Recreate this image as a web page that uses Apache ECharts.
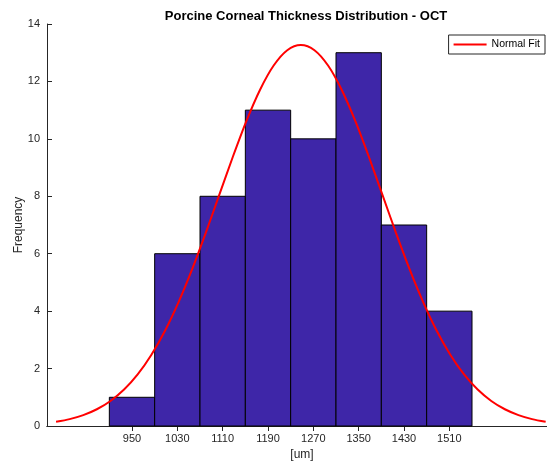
<!DOCTYPE html>
<html>
<head>
<meta charset="utf-8">
<script src="https://cdn.jsdelivr.net/npm/echarts@6/dist/echarts.min.js"></script>
<style>html,body{margin:0;padding:0;background:#fff}#c{width:547px;height:464px}</style>
</head>
<body>
<div id="c"></div>
<script>
// Histogram bins (edges) and counts
var binStart = [910, 990, 1070, 1150, 1230, 1310, 1390, 1470];
var binEnd   = [990, 1070, 1150, 1230, 1310, 1390, 1470, 1550];
var counts   = [1, 6, 8, 11, 10, 13, 7, 4];
// Tick labels (bin centers)
var xTicks = [950, 1030, 1110, 1190, 1270, 1350, 1430, 1510];
// Normal fit curve
var fitX = [816, 840, 864, 888, 912, 936, 960, 984, 1008, 1032, 1056, 1080, 1104, 1128, 1152, 1176, 1200, 1224, 1248,
            1272, 1296, 1320, 1344, 1368, 1392, 1416, 1440, 1464, 1488, 1512, 1536, 1560, 1584, 1608, 1632, 1656, 1680];
var fitY = [0.147, 0.240, 0.379, 0.583, 0.872, 1.269, 1.796, 2.472, 3.309, 4.308, 5.455, 6.719, 8.049, 9.377, 10.626, 11.711, 12.553, 13.087, 13.27,
            13.087, 12.553, 11.711, 10.626, 9.377, 8.049, 6.719, 5.455, 4.308, 3.309, 2.472, 1.796, 1.269, 0.872, 0.583, 0.379, 0.240, 0.147];

var barData = binStart.map(function (s, i) { return [s, binEnd[i], counts[i]]; });
var fitData = fitX.map(function (x, i) { return [x, fitY[i]]; });

var axisColor = '#262626';
var font = 'Liberation Sans, Arial, Helvetica, sans-serif';
var plain = function (v) { return String(v); };

var chart = echarts.init(document.getElementById('c'), null, {renderer: 'canvas'});
chart.setOption({
  animation: false,
  backgroundColor: '#ffffff',
  title: {
    text: 'Porcine Corneal Thickness Distribution - OCT',
    left: 301, top: 5, textAlign: 'center',
    textStyle: {fontFamily: font, fontSize: 13, fontWeight: 'bold', color: '#000'}
  },
  legend: {
    data: ['Normal Fit'],
    right: 2, top: 35,
    orient: 'vertical',
    backgroundColor: '#fff',
    borderColor: '#262626', borderWidth: 1,
    padding: [4, 5, 4, 5],
    itemWidth: 33, itemHeight: 2, itemGap: 0,
    textStyle: {fontFamily: font, fontSize: 10.5, color: '#000'},
    icon: 'rect'
  },
  grid: {left: 47, right: -10, top: 24, bottom: 38, containLabel: false, outerBoundsMode: 'none'},
  xAxis: [{
    type: 'value', min: 800, max: 1700,
    name: '[um]', nameLocation: 'middle', nameGap: 23, nameMoveOverlap: false,
    nameTextStyle: {fontFamily: font, fontSize: 12, color: axisColor},
    axisLine: {show: true, onZero: false, lineStyle: {color: axisColor, width: 1}},
    axisTick: {show: true, inside: true, length: 5, customValues: xTicks, lineStyle: {color: axisColor}},
    axisLabel: {show: true, customValues: xTicks, formatter: plain, fontFamily: font, fontSize: 11, color: axisColor, margin: 7},
    splitLine: {show: false}
  }, {
    type: 'value', min: 800, max: 1700, position: 'top',
    axisLine: {show: true, lineStyle: {color: axisColor, width: 1}},
    axisTick: {show: true, inside: true, length: 5, customValues: xTicks, lineStyle: {color: axisColor}},
    axisLabel: {show: false},
    splitLine: {show: false}
  }],
  yAxis: {
    type: 'value', min: 0, max: 14, interval: 2,
    name: 'Frequency', nameLocation: 'middle', nameGap: 22, nameMoveOverlap: false,
    nameTextStyle: {fontFamily: font, fontSize: 12, color: axisColor},
    axisLine: {show: true, lineStyle: {color: axisColor, width: 1}},
    axisTick: {show: true, inside: true, length: 5, lineStyle: {color: axisColor}},
    axisLabel: {fontFamily: font, fontSize: 11, color: axisColor, margin: 7},
    splitLine: {show: false}
  },
  series: [{
    type: 'custom',
    name: 'hist',
    xAxisIndex: 0,
    data: barData,
    encode: {x: [0, 1], y: 2},
    renderItem: function (params, api) {
      var p0 = api.coord([api.value(0), api.value(2)]);
      var p1 = api.coord([api.value(1), 0]);
      return {
        type: 'rect',
        shape: {x: p0[0], y: p0[1], width: p1[0] - p0[0], height: p1[1] - p0[1]},
        style: {fill: 'rgb(62,38,168)', stroke: '#000', lineWidth: 1}
      };
    },
    z: 2
  }, {
    type: 'line',
    name: 'Normal Fit',
    xAxisIndex: 0,
    data: fitData,
    smooth: 0.3,
    symbol: 'none',
    lineStyle: {color: '#ff0000', width: 2},
    itemStyle: {color: '#ff0000'},
    z: 3
  }]
});
</script>
</body>
</html>
